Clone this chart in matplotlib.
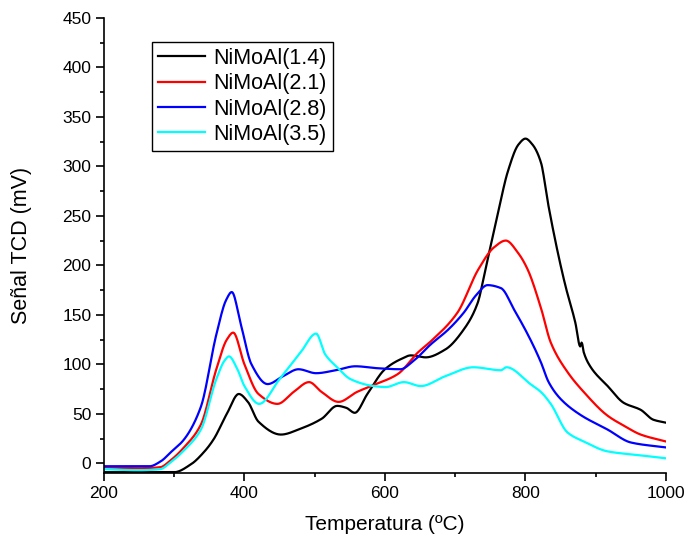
import matplotlib
matplotlib.use("Agg")
import matplotlib.pyplot as plt
import numpy as np
from matplotlib.ticker import MultipleLocator

plt.rcParams['font.family'] = ['Liberation Sans', 'DejaVu Sans']

labels = ["NiMoAl(1.4)", "NiMoAl(2.1)", "NiMoAl(2.8)", "NiMoAl(3.5)"]
colors = ["black", "red", "blue", "cyan"]

x_black = [200, 250, 290, 300, 324, 342, 356, 375, 392, 405, 420, 452, 480, 510, 532, 545, 557, 575, 600, 622, 637, 658, 686, 712, 732, 743, 760, 775, 790, 800, 810, 822, 832, 846, 857, 871, 878, 880, 883, 893, 917, 940, 964, 982, 1000]
y_black = [-9, -9, -9, -9, -1, 11, 24, 50, 70, 62, 42, 29, 35, 45, 58, 56, 51, 70, 95, 105, 109, 107, 115, 135, 162, 196, 250, 295, 322, 328, 322, 304, 263, 213, 179, 142, 118, 122, 112, 97, 78, 61, 54, 44, 41]

x_red = [200, 250, 280, 295, 314, 338, 360, 375, 384, 400, 420, 447, 470, 492, 510, 534, 560, 580, 618, 647, 665, 703, 733, 755, 772, 790, 803, 822, 836, 860, 883, 917, 940, 964, 1000]
y_red = [-4, -5, -4, 3, 16, 39, 95, 125, 132, 100, 70, 60, 72, 82, 72, 62, 72, 78, 90, 112, 123, 152, 196, 218, 225, 212, 196, 157, 122, 92, 72, 48, 38, 29, 22]

x_blue = [200, 250, 265, 281, 295, 314, 338, 360, 374, 382, 395, 410, 433, 455, 477, 502, 530, 558, 590, 622, 640, 665, 690, 712, 730, 746, 765, 784, 807, 822, 833, 850, 878, 917, 950, 1000]
y_blue = [-3, -3, -3, 2, 11, 24, 57, 130, 165, 173, 140, 100, 80, 88, 95, 91, 94, 98, 96, 95, 103, 120, 135, 152, 170, 180, 177, 155, 125, 102, 82, 65, 49, 34, 21, 16]

x_cyan = [200, 250, 280, 295, 314, 338, 360, 372, 378, 390, 400, 421, 450, 480, 502, 515, 532, 551, 584, 601, 627, 651, 686, 726, 765, 773, 807, 822, 836, 860, 883, 917, 964, 1000]
y_cyan = [-6, -7, -6, 1, 13, 34, 85, 104, 108, 95, 78, 60, 85, 112, 131, 110, 97, 85, 78, 77, 82, 78, 88, 97, 94, 97, 80, 72, 60, 31, 22, 12, 8, 5]

series = [(x_black, y_black), (x_red, y_red), (x_blue, y_blue), (x_cyan, y_cyan)]

def smooth(xs, ys):
    xs = np.asarray(xs, float); ys = np.asarray(ys, float)
    xf = np.linspace(xs[0], xs[-1], 800)
    h = np.diff(xs); d = np.diff(ys) / h
    m = np.zeros_like(ys)
    for k in range(1, len(xs) - 1):
        if d[k-1] * d[k] <= 0:
            m[k] = 0
        else:
            w1 = 2 * h[k] + h[k-1]; w2 = h[k] + 2 * h[k-1]
            m[k] = (w1 + w2) / (w1 / d[k-1] + w2 / d[k])
    m[0] = d[0]; m[-1] = d[-1]
    idx = np.clip(np.searchsorted(xs, xf) - 1, 0, len(xs) - 2)
    t = (xf - xs[idx]) / h[idx]
    h00 = 2*t**3 - 3*t**2 + 1; h10 = t**3 - 2*t**2 + t
    h01 = -2*t**3 + 3*t**2; h11 = t**3 - t**2
    yf = h00*ys[idx] + h10*h[idx]*m[idx] + h01*ys[idx+1] + h11*h[idx]*m[idx+1]
    return xf, yf

fig = plt.figure(figsize=(6.88, 5.42), dpi=100)
ax = fig.add_axes([0.151, 0.127, 0.817, 0.840])

for (xs, ys), c, lab in zip(series, colors, labels):
    xf, yf = smooth(xs, ys)
    ax.plot(xf, yf, color=c, lw=1.6, label=lab)

ax.set_xlim(200, 1000)
ax.set_ylim(-10, 450)
ax.xaxis.set_major_locator(MultipleLocator(200))
ax.xaxis.set_minor_locator(MultipleLocator(100))
ax.yaxis.set_major_locator(MultipleLocator(50))
ax.yaxis.set_minor_locator(MultipleLocator(25))
ax.spines['top'].set_visible(False)
ax.spines['right'].set_visible(False)
for s in ['left', 'bottom']:
    ax.spines[s].set_linewidth(1.2)
ax.tick_params(which='major', direction='out', length=6, width=1.2, labelsize=12.5, pad=3)
ax.tick_params(which='minor', direction='out', length=3, width=1.2)

ax.set_xlabel("Temperatura (ºC)", fontsize=15, labelpad=10)
ax.set_ylabel("Señal TCD (mV)", fontsize=15.5, labelpad=22)

leg = ax.legend(loc='upper left', bbox_to_anchor=(0.085, 0.948), fontsize=15.5,
                frameon=True, fancybox=False, edgecolor='black', framealpha=1,
                handlelength=2.2, borderpad=0.3, labelspacing=0.2, handletextpad=0.35,
                borderaxespad=0)
leg.get_frame().set_linewidth(1.0)

fig.savefig("out.png", dpi=100)
